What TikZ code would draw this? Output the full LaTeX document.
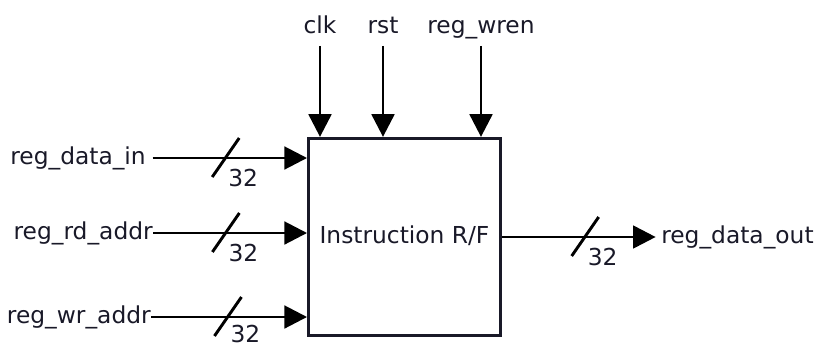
\documentclass[tikz,border=0pt]{standalone}
\usepackage{fontspec}
\setmainfont{DejaVu Sans}
\usepackage{xcolor}
\usepackage{tikz}
\usetikzlibrary{calc,arrows.meta}
\definecolor{primary}{RGB}{0, 0, 0}
\definecolor{labelink}{RGB}{25, 25, 40}

\begin{document}
\begin{tikzpicture}[x=0.75pt,y=-0.75pt,
  sig/.style={primary,line width=2.2pt,-{Triangle[length=17pt,width=17pt]}},
  lbl/.style={labelink,font=\fontsize{17.5}{21}\selectfont,inner sep=0pt,text height=12.5pt,text depth=3.5pt}]
\useasboundingbox (0,0) rectangle (820,347);
\node[draw=primary,line width=2.2pt,minimum width=144pt,minimum height=148pt,lbl,inner sep=0pt] (rf) at (404.5,237) {Instruction R/F};
\node[lbl,anchor=east] (din) at (146,158) {reg\_data\_in};
\node[lbl,anchor=east] (rda) at (153,233) {reg\_rd\_addr};
\node[lbl,anchor=east] (wra) at (151,317) {reg\_wr\_addr};
\node[lbl,anchor=base] (clk) at (320,33) {clk};
\node[lbl,anchor=base] (rst) at (383,33) {rst};
\node[lbl,anchor=base] (wren) at (481,33) {reg\_wren};
\node[lbl,anchor=west] (dout) at (661,237) {reg\_data\_out};
\draw[sig] ([xshift=5pt]din.east) -- (din.east -| rf.west) coordinate[pos=0.47] (dinbus);
\draw[sig] (rda.east) -- (rda.east -| rf.west) coordinate[pos=0.47] (rdabus);
\draw[sig] (wra.east) -- (wra.east -| rf.west) coordinate[pos=0.49] (wrabus);
\draw[sig,shorten >=4pt] (rf.east) -- (rf.east -| dout.west) coordinate[pos=0.52] (doutbus);
\foreach \top in {clk,rst,wren}
  \draw[sig] ([yshift=-6pt]\top.south) -- (\top.south |- rf.north);
\foreach \bus/\dy in {dinbus/22,rdabus/22,wrabus/19,doutbus/22} {
  \draw[primary,line width=2.2pt] ($(\bus)+(-13,19)$) -- ($(\bus)+(14,-20)$);
  \node[lbl] at ($(\bus)+(18,\dy)$) {32};
}
\end{tikzpicture}
\end{document}
